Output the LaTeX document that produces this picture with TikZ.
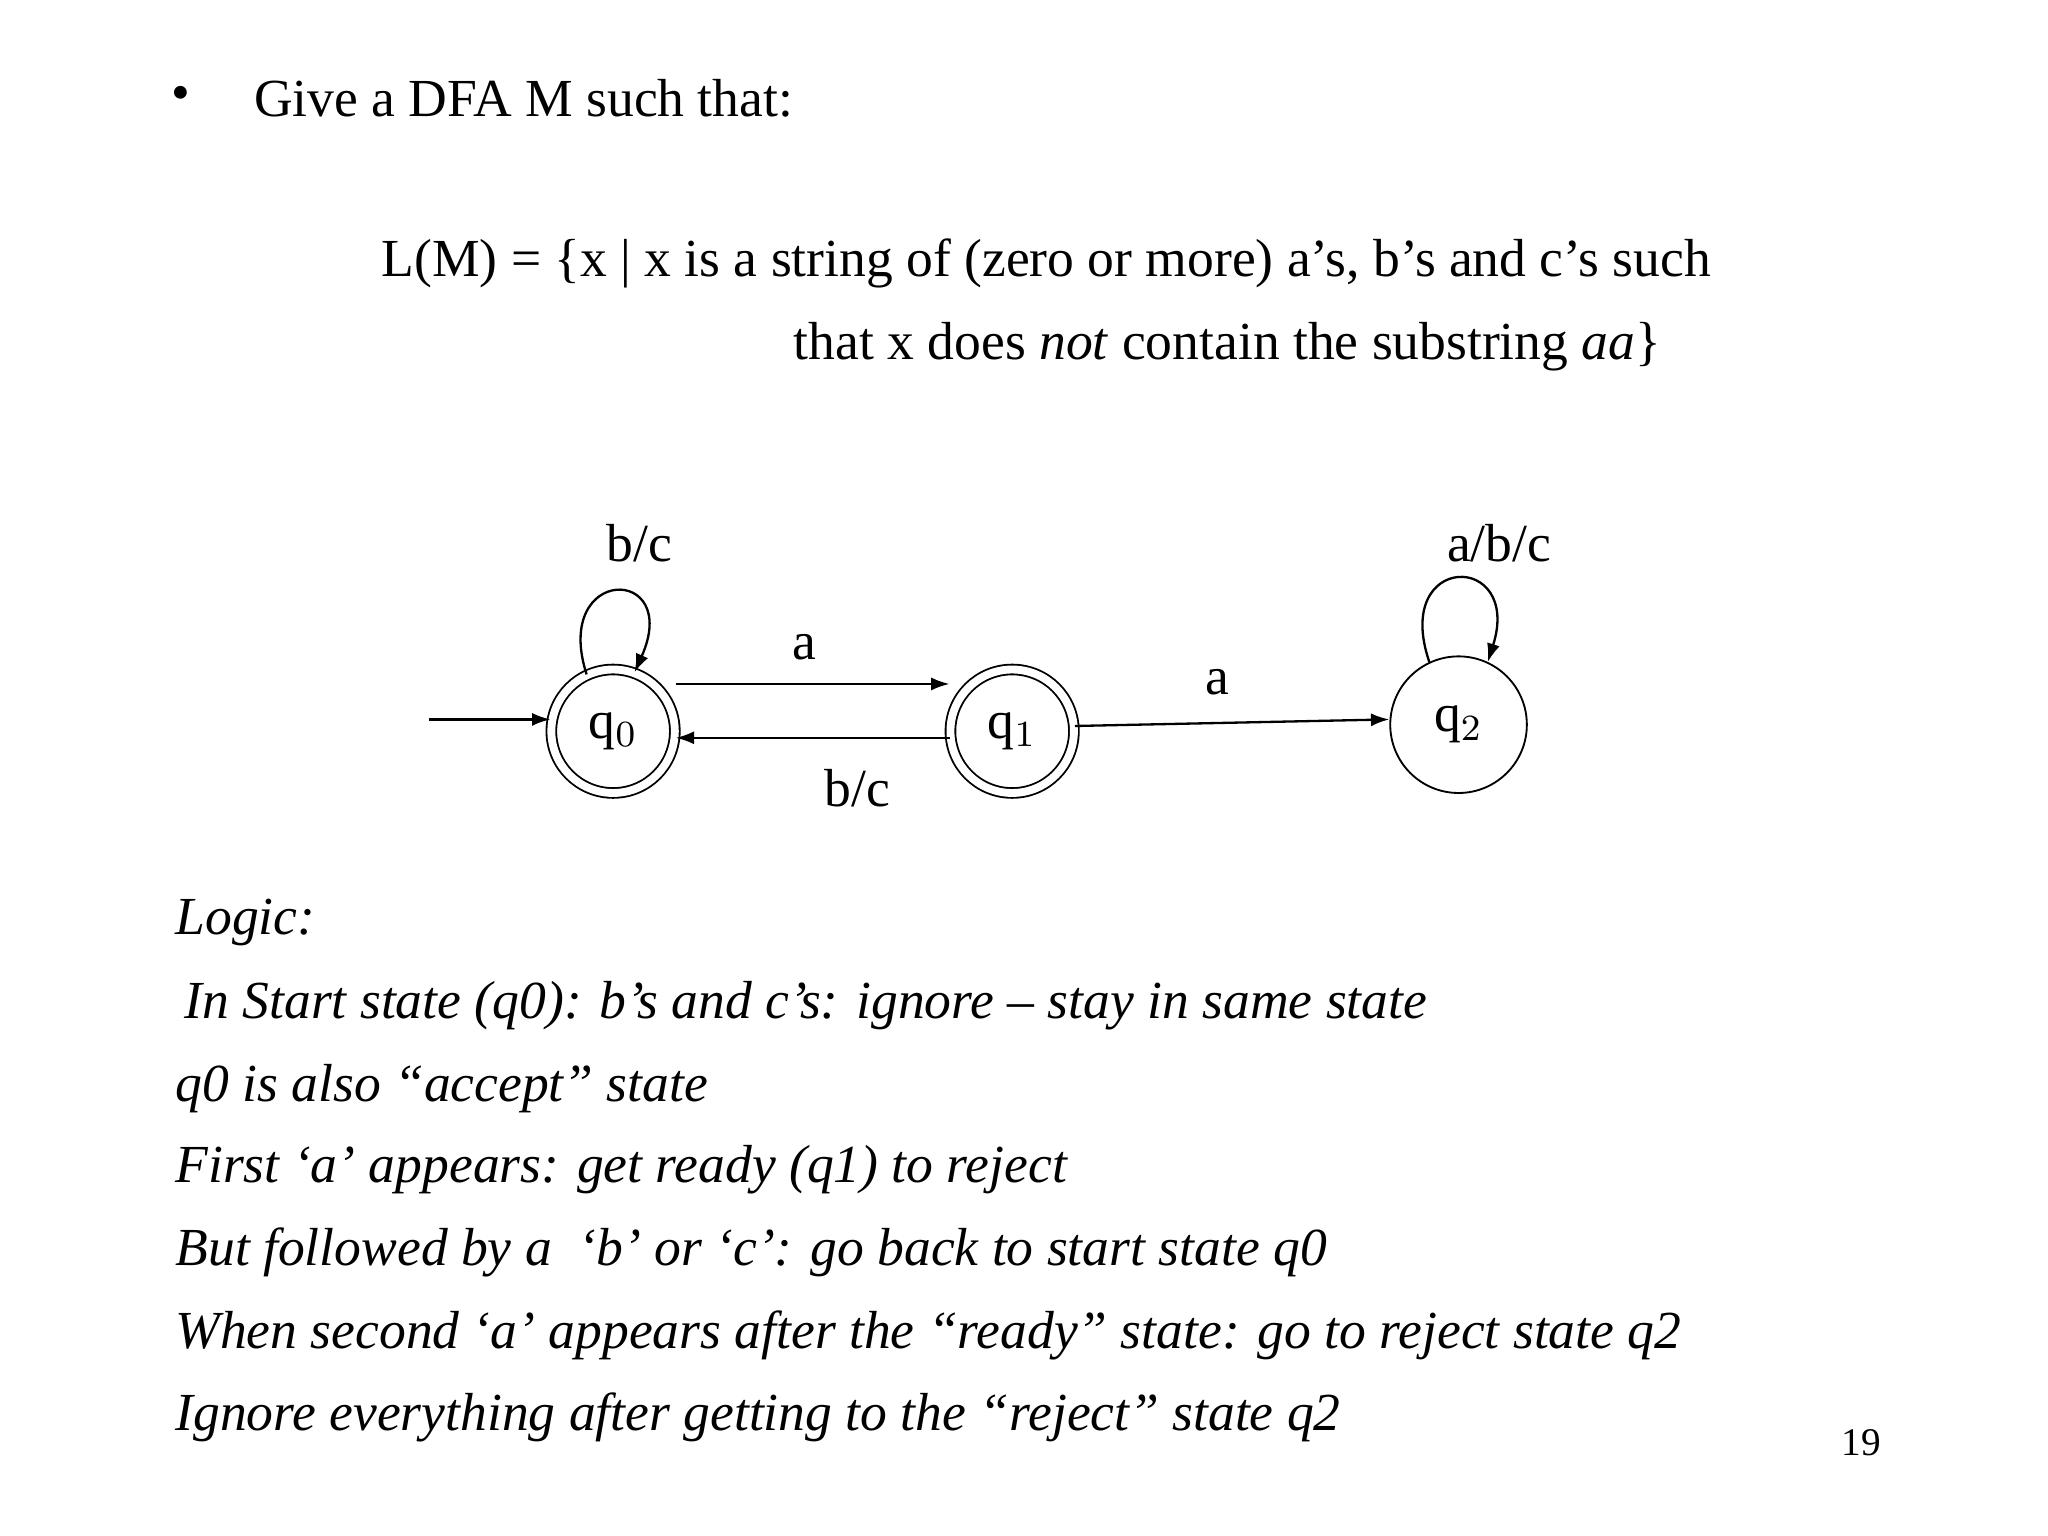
\documentclass[tikz,border=0pt]{standalone}
\usepackage{fontspec}
\setmainfont{Liberation Serif}
\usetikzlibrary{arrows.meta}
\begin{document}
\begin{tikzpicture}[x=0.01cm,y=-0.01cm,
  txt/.style={font=\fontsize{11.6}{14}\selectfont,inner sep=0pt},
  st/.style={circle,draw,minimum size=0.86cm,inner sep=0pt,font=\fontsize{11.6}{14}\selectfont},
  acc/.style={st,double,double distance=0.06cm},
  ed/.style={-{Latex[length=0.14cm,width=0.1cm]},line width=0.5pt}]
\useasboundingbox (0,0) rectangle (1560,1170);
\node[txt,anchor=west] (b) at (130,75) {•};
\node[txt,anchor=west] (t1) at (193,75) {Give a DFA M such that:};
\node[txt,anchor=west] (t2) at (290,201) {L(M) = \{x | x is a string of (zero or more) a’s, b’s and c’s such};
\node[txt,anchor=west] (t3) at (604,264) {that x does \textit{not} contain the substring \textit{aa}\}};
\node[acc,minimum size=0.94cm] (q0) at (467,557) {q$_{0}$};
\node[acc,minimum size=0.94cm] (q1) at (771,557) {q$_{1}$};
\node[st,minimum size=1.04cm] (q2) at (1111,552) {q$_{2}$};
\coordinate (s) at (327,548);
\draw[ed] (s) -- (s-|q0.west);
\draw[ed] ([yshift=0.36cm]q0.east) -- ([yshift=0.36cm]q1.west);
\draw[ed] ([yshift=-0.05cm]q1.west) -- ([yshift=-0.05cm]q0.east);
\draw[ed] ([yshift=0.04cm]q1.east) -- ([yshift=0.04cm]q2.west);
\draw[ed] (q0.115) .. controls (420,430) and (520,430) .. (q0.70);
\draw[ed] (q2.115) .. controls (1060,420) and (1160,420) .. (q2.65);
\node[txt] (l1) at (487,414) {b/c};
\node[txt] (l2) at (1142,414) {a/b/c};
\node[txt] (l3) at (613,493) {a};
\node[txt] (l4) at (653,600) {b/c};
\node[txt] (l5) at (927,520) {a};
\begin{scope}[every node/.style={txt,anchor=west,font=\fontsize{11.6}{14}\selectfont\itshape}]
\node (g1) at (133,703) {Logic:};
\node (g2) at (140,766) {In Start state (q0): b’s and c’s: ignore – stay in same state};
\node (g3) at (133,829) {q0 is also “accept” state};
\node (g4) at (133,891) {First ‘a’ appears: get ready (q1) to reject};
\node (g5) at (133,954) {But followed by a\ \ ‘b’ or ‘c’: go back to start state q0};
\node (g6) at (133,1017) {When second ‘a’ appears after the “ready” state: go to reject state q2};
\node (g7) at (133,1080) {Ignore everything after getting to the “reject” state q2};
\end{scope}
\node[txt,font=\fontsize{8.5}{10}\selectfont] (pg) at (1418,1099) {19};
\end{tikzpicture}
\end{document}
